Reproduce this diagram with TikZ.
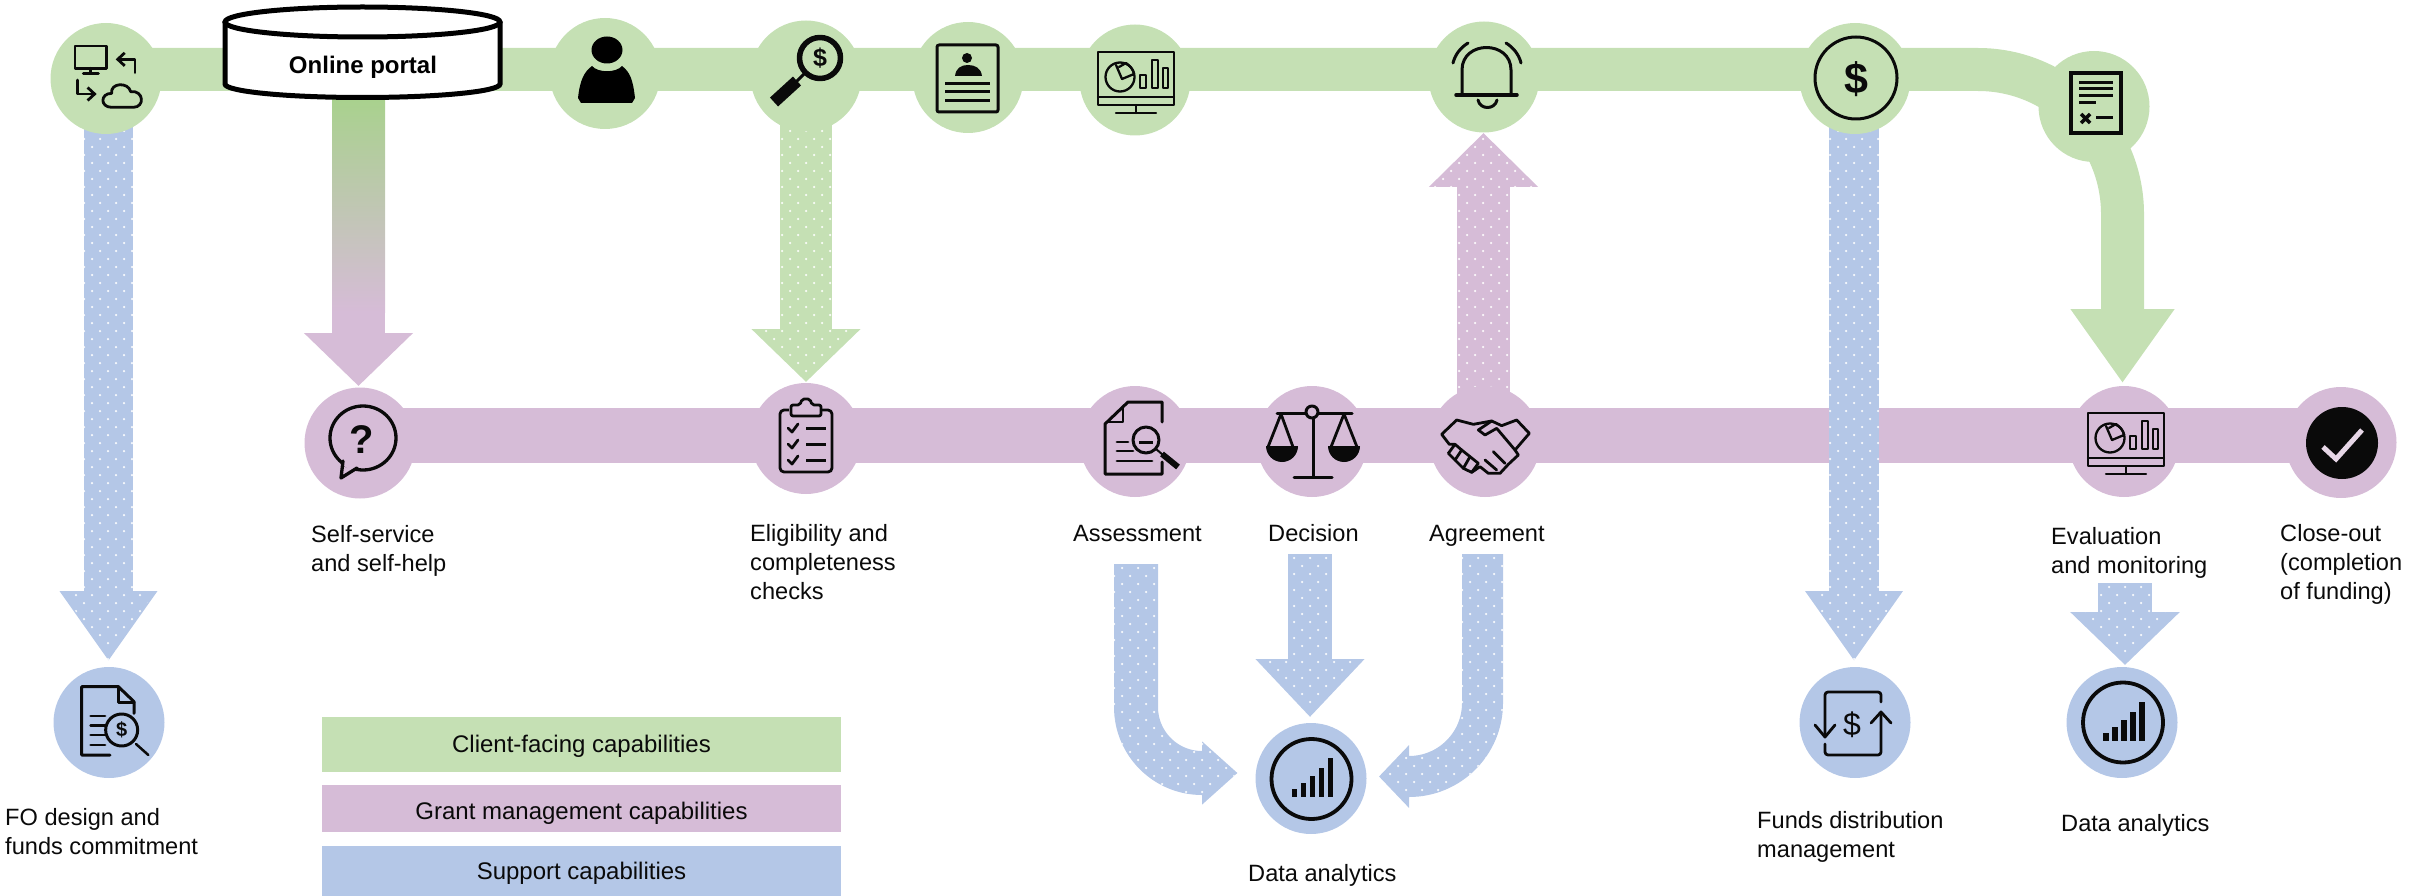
\documentclass[tikz,border=0pt]{standalone}
\usepackage{fontspec}
\setmainfont{Liberation Sans}
\usetikzlibrary{arrows.meta,shapes.geometric}
\definecolor{cgreen}{HTML}{C5E0B4}
\definecolor{cpurple}{HTML}{D6BCD7}
\definecolor{cblue}{HTML}{B4C7E7}
\definecolor{pgreen}{HTML}{A9D18E}
\definecolor{ink}{HTML}{0A0A0A}
\tikzset{
  stage/.style={circle,inner sep=0pt,minimum size=111pt,fill=#1},
  blockarrow/.style n args={3}{line width=#1pt,-{Triangle[length=#2pt,width=#3pt]}},
  lbl/.style={font=\fontsize{23.6}{29}\selectfont,text=ink,inner sep=0pt,anchor=west,align=left},
  lblone/.style={lbl,text height=17pt,text depth=5pt},
  legendbox/.style={fill=#1,inner sep=0pt,minimum width=519pt,font=\fontsize{24}{29}\selectfont,text=ink},
  ic/.style={draw=ink,line width=2.8pt,line join=round,line cap=round},
  sign/.style={inner sep=0pt,text=ink},
  zoomed/.style={x=0.33333pt,y=-0.33333pt}
}
% white dot grid inside a clip path: #1 path, #2 x0, #3 y0, #4 columns, #5 rows
\newcommand{\dotgrid}[5]{%
  \begin{scope}
    \clip #1;
    \foreach \rr in {0,...,#5}{%
      \pgfmathsetmacro{\offs}{mod(\rr,2)*8}
      \foreach \cc in {0,...,#4}{%
        \fill[white,opacity=.9] ({#2+\offs+16*\cc},{#3+8*\rr}) circle[radius=1.25pt];
      }
    }
  \end{scope}}
\newcommand{\screenicon}[1]{%
  \begin{scope}[shift={(#1)},every path/.append style={ic,line width=2.3pt}]
    \draw (-38,-28) rectangle (38,25);
    \draw (-38,17) -- (38,17);
    \draw (0,25) -- (0,33);
    \draw (-20,33) -- (20,33);
    \draw (-16,-3) circle[radius=14.5pt];
    \draw (-14,-1) -- (-20,-15);
    \draw (-14,-1) -- (-2,-6);
    \draw (-17,-13) -- (-10,-17) .. controls (-6,-14) and (-3,-11) .. (-2,-6);
    \draw (4,-5) rectangle (10,8);
    \draw (16,-20) rectangle (22,8);
    \draw (27,-12) rectangle (32,8);
  \end{scope}}
\newcommand{\charticon}[1]{%
  \begin{scope}[shift={(#1)}]
    \draw[ic,line width=3.8pt] (0,0) circle[radius=40pt];
    \fill[ink] (-20,18) rectangle (-14.5,10);
    \fill[ink] (-10.9,18) rectangle (-5.4,4);
    \fill[ink] (-1.8,18) rectangle (3.7,-3);
    \fill[ink] (7.3,18) rectangle (12.8,-11);
    \fill[ink] (16.4,18) rectangle (21.9,-21);
  \end{scope}}
\begin{document}
\begin{tikzpicture}[x=1pt,y=-1pt]
\useasboundingbox (0,0) rectangle (2430,896);
% free ends of the connectors
\coordinate (topL) at (106,69.5);
\coordinate (topR) at (1978,69.5);
\coordinate (topTip) at (2122.5,383);
\coordinate (midL) at (360,435.5);
\coordinate (midR) at (2341,435.5);
\coordinate (a1s) at (108.5,125);  \coordinate (a1t) at (108.5,661);
\coordinate (a2s) at (358.5,100);  \coordinate (a2t) at (358.5,386);
\coordinate (a3s) at (806,125);    \coordinate (a3t) at (806,382);
\coordinate (a4s) at (1483.5,400); \coordinate (a4t) at (1483.5,133);
\coordinate (a5s) at (1854,125);   \coordinate (a5t) at (1854,661);
\coordinate (a6s) at (2125,583);   \coordinate (a6t) at (2125,665);
\coordinate (a7s) at (1136,564);   \coordinate (a7t) at (1237.5,773);
\coordinate (a8s) at (1310,554);   \coordinate (a8t) at (1310,717);
\coordinate (a9s) at (1482.5,554); \coordinate (a9t) at (1379,776.5);
% bars
\draw[cpurple,line width=55pt] (midL) -- (midR);
\draw[cgreen,blockarrow={43}{74}{99}] (topL) -- (topR) arc[start angle=90,end angle=0,radius=144.5pt] -- (topTip);
% block arrows
\draw[cblue,blockarrow={49}{70}{93}] (a1s) -- (a1t);
\dotgrid{(84,125) -- (84,591) -- (62,591) -- (108.5,661) -- (155,591) -- (133,591) -- (133,125) -- cycle}{76}{131}{5}{66}
\draw[cpurple,blockarrow={53}{53}{106}] (a2s) -- (a2t);
\shade[top color=pgreen,bottom color=cpurple] (332,100) rectangle (385,312);
\draw[cgreen,blockarrow={52}{53}{106}] (a3s) -- (a3t);
\dotgrid{(780,125) -- (780,329) -- (753,329) -- (806,382) -- (859,329) -- (832,329) -- (832,125) -- cycle}{758}{131}{7}{32}
\draw[cpurple,blockarrow={53}{54}{106}] (a4s) -- (a4t);
\dotgrid{(1457,400) -- (1457,187) -- (1430.5,187) -- (1483.5,133) -- (1536.5,187) -- (1510,187) -- (1510,400) -- cycle}{1435}{139}{7}{33}
\draw[cblue,blockarrow={50}{70}{93}] (a5s) -- (a5t);
\dotgrid{(1829,125) -- (1829,591) -- (1807.5,591) -- (1854,661) -- (1900.5,591) -- (1879,591) -- (1879,125) -- cycle}{1806}{131}{6}{66}
\draw[cblue,blockarrow={54}{53}{106.5}] (a6s) -- (a6t);
\dotgrid{(2098,583) -- (2098,612) -- (2071.7,612) -- (2125,665) -- (2178.2,612) -- (2152,612) -- (2152,583) -- cycle}{2077}{587}{7}{10}
\draw[cblue,blockarrow={44}{35.5}{61}] (a7s) -- (1136,707) arc[start angle=180,end angle=270,radius=66pt] -- (a7t);
\dotgrid{(1114,564) -- (1114,707) arc[start angle=180,end angle=270,radius=88pt] -- (1202,803) -- (1237.5,773) -- (1202,742) -- (1202,751) arc[start angle=270,end angle=180,radius=44pt] -- (1158,564) -- cycle}{1106}{568}{9}{30}
\draw[cblue,blockarrow={44}{58}{105.5}] (a8s) -- (a8t);
\dotgrid{(1288,554) -- (1288,659) -- (1257,659) -- (1310,717) -- (1362.5,659) -- (1332,659) -- (1332,554) -- cycle}{1262}{558}{7}{20}
\draw[cblue,blockarrow={41}{30}{61}] (a9s) -- (1482.5,703) arc[start angle=0,end angle=-90,radius=73.5pt] -- (a9t);
\dotgrid{(1503,554) -- (1503,703) arc[start angle=0,end angle=-90,radius=94pt] -- (1409,807) -- (1379,776.5) -- (1409,746) -- (1409,756) arc[start angle=270,end angle=360,radius=53pt] -- (1462,554) -- cycle}{1382}{558}{8}{32}
% stage circles
\node[stage=cgreen] (sys) at (106,78.5) {};
\node[stage=cgreen] (user) at (605,73.5) {};
\node[stage=cgreen] (search) at (806,76) {};
\node[stage=cgreen] (idcard) at (968,77.5) {};
\node[stage=cgreen] (dash) at (1135,80) {};
\node[stage=cgreen] (bell) at (1484,77) {};
\node[stage=cgreen] (pay) at (1855,78.5) {};
\node[stage=cgreen] (report) at (2094,106.5) {};
\node[stage=cpurple] (help) at (360,443) {};
\node[stage=cpurple] (check) at (806,438.5) {};
\node[stage=cpurple] (assess) at (1135,441.5) {};
\node[stage=cpurple] (decide) at (1312,441.5) {};
\node[stage=cpurple] (agree) at (1485,441.5) {};
\node[stage=cpurple] (evalm) at (2124,441.5) {};
\node[stage=cpurple] (close) at (2341,442.5) {};
\node[stage=cblue] (fo) at (109,722.5) {};
\node[stage=cblue] (funds) at (1855,722.5) {};
\node[stage=cblue] (d1) at (1311,778.5) {};
\node[stage=cblue] (d2) at (2122,722.5) {};
% online portal
\fill[white] (225,22) -- (225,84) arc[start angle=180,end angle=360,x radius=137.5pt,y radius=13.5pt] -- (500,22) -- cycle;
\draw[black,line width=5pt] (225,22) -- (225,84) arc[start angle=180,end angle=360,x radius=137.5pt,y radius=13.5pt] -- (500,22);
\draw[black,fill=white,line width=5pt] (362.5,22) ellipse[x radius=137.5pt,y radius=15pt];
\node[font=\fontsize{24}{28}\bfseries\selectfont,inner sep=0pt,text=black,text height=17pt,text depth=5pt] (portal) at (363,68) {Online portal};
% icon: systems
\begin{scope}[zoomed]
  \draw[ic] (225,138) rectangle (320,205);
  \draw[ic] (272,205) -- (272,220);
  \draw[ic,line width=3pt] (250,220) -- (295,220);
  \draw[ic,-{Straight Barb[length=7pt,width=13pt]}] (405,218) -- (405,178) -- (347,178);
  \draw[ic,-{Straight Barb[length=7pt,width=13pt]}] (232,240) -- (232,282) -- (290,282);
  \draw[ic] (335,322) .. controls (300,322) and (300,280) .. (335,280) .. controls (330,248) and (385,245) .. (392,275) .. controls (432,270) and (435,322) .. (400,322) -- cycle;
\end{scope}
% icon: person
\fill[black] (607,50) ellipse[x radius=15.5pt,y radius=13.5pt];
\fill[black] (578,98) .. controls (580,80) and (584,72) .. (592,66) .. controls (598,73) and (616,73) .. (622,66) .. controls (630,72) and (633,80) .. (635,98) -- (632,103) -- (581,103) -- cycle;
% icon: magnifier with dollar
\draw[ic,line width=5.5pt] (820,58) circle[radius=20.5pt];
\node[sign,font=\fontsize{25}{25}\bfseries\selectfont] (searchd) at (820,58) {\$};
\draw[ic,line width=3pt] (805,73) -- (795,83);
\draw[ink,line width=12pt] (797,81) -- (774,102);
% icon: id sheet
\draw[ic,line width=3pt,rounded corners=2pt] (937,45) rectangle (998,112);
\fill[ink] (967,58) circle[radius=5pt];
\fill[ink] (955,76) .. controls (956,68) and (961,65) .. (968,65) .. controls (975,65) and (981,68) .. (982,76) -- cycle;
\foreach \yy in {84,92,101}{\draw[ink,line width=3pt] (945,\yy) -- (990,\yy);}
% icon: dashboards
\screenicon{1136,80}
\screenicon{2126,441}
% icon: bell
\draw[ic,line width=3pt] (1462,95) -- (1462,70) .. controls (1462,40) and (1511,40) .. (1511,70) -- (1511,95);
\draw[ic,line width=3.5pt] (1456,95) -- (1517,95);
\draw[ic,line width=3pt] (1478,100) .. controls (1480,110) and (1495,110) .. (1497,100);
\draw[ic,line width=3pt] (1453,63) .. controls (1455,55) and (1460,48) .. (1468,43);
\draw[ic,line width=3pt] (1521,63) .. controls (1519,55) and (1514,48) .. (1506,43);
% icon: payment
\draw[ic,line width=3pt] (1856,78) circle[radius=41pt];
\node[sign,font=\fontsize{43}{43}\bfseries\selectfont] (payd) at (1856,79) {\$};
% icon: report
\draw[ink,line width=4.5pt] (2071,73) rectangle (2121,133);
\foreach \yy in {83,89,96}{\draw[ink,line width=3pt] (2079,\yy) -- (2113,\yy);}
\draw[ink,line width=3pt] (2079,103) -- (2096,103);
\draw[ink,line width=3.5pt] (2081,114) -- (2090,123) (2090,114) -- (2081,123);
\draw[ink,line width=3pt] (2096,118) -- (2113,118);
% icon: help bubble
\draw[ic,line width=3.3pt] (363,438) ellipse[x radius=33pt,y radius=32pt];
\fill[cpurple] (346,459) -- (357,468) -- (350,471) -- (342,464) -- cycle;
\draw[ic,line width=3.3pt] (343,461) -- (341,478) -- (357,468);
\node[sign,font=\fontsize{40}{40}\bfseries\selectfont] (helpq) at (362,440) {?};
% icon: clipboard
\draw[ic,rounded corners=4pt] (780,410) rectangle (832,472);
\fill[cpurple] (789,403) rectangle (822,416);
\draw[ic,rounded corners=2pt] (791,416) -- (791,405) -- (800,405) -- (802,399) -- (810,399) -- (812,405) -- (821,405) -- (821,416) -- cycle;
\foreach \yy in {428,444,460}{%
  \draw[ic] (788,\yy) -- (792,{\yy+4}) -- (798,{\yy-4});
  \draw[ink,line width=3pt] (806,\yy) -- (826,\yy);
}
% icon: assessment
\draw[ic,line width=3pt] (1162,422) -- (1162,402) -- (1128,402) -- (1105,424) -- (1105,474) -- (1162,474) -- (1162,462);
\draw[ic] (1123,408) -- (1123,422) -- (1108,422);
\draw[ic] (1117,442) -- (1128,442) (1117,451) -- (1133,451) (1117,461) -- (1152,461);
\draw[ic,line width=3pt] (1146,440) circle[radius=13pt];
\draw[ink,line width=3pt] (1139,442) -- (1153,442);
\draw[ic,line width=2pt] (1156,449) -- (1163,455);
\draw[ink,line width=6pt] (1162,454) -- (1178,467);
% icon: scales
\draw[ic,line width=3pt] (1277,413) -- (1306,413) (1318,413) -- (1352,413);
\draw[ic,line width=3pt] (1312,412) circle[radius=6pt];
\draw[ic,line width=3pt] (1313,418) -- (1313,477) (1294,477) -- (1332,477);
\draw[ic] (1268,447) -- (1281,414) -- (1293,447);
\draw[ic] (1331,447) -- (1344,414) -- (1357,447);
\fill[ink] (1266,446) arc[start angle=180,end angle=360,radius=16pt] -- cycle;
\fill[ink] (1328,446) arc[start angle=180,end angle=360,radius=16pt] -- cycle;
% icon: handshake
\begin{scope}[shift={(1413.33,385)},x=0.33333pt,y=-0.33333pt]
  \draw[ic] (85,148) -- (130,105) -- (180,118) -- (235,108) -- (265,122) -- (310,105) -- (348,145) -- (305,195) -- (315,210) -- (285,238) -- (260,265) -- (225,265) -- (200,245) -- (175,262) -- (150,250) -- (105,205) -- (125,178) -- (108,178) -- cycle;
  \draw[ic] (235,108) -- (195,135) -- (215,150) -- (250,130) -- (305,195);
  \draw[ic] (125,178) -- (145,195) -- (125,225);
  \draw[ic] (145,195) -- (170,215) -- (150,250);
  \draw[ic] (170,215) -- (195,235) -- (175,262);
  \draw[ic] (240,200) -- (275,235);
  \draw[ic] (215,225) -- (250,255);
\end{scope}
% icon: close-out
\fill[ink] (2342,443) circle[radius=36pt];
\draw[cpurple!60!white,line width=5pt,line join=miter] (2323,447) -- (2336,459) -- (2362,430);
% icon: fund design
\begin{scope}[shift={(60,560)},x=0.33333pt,y=-0.33333pt]
  \draw[ic,line width=3pt] (222,460) -- (222,425) -- (175,380) -- (65,380) -- (65,585) -- (150,585);
  \draw[ic] (175,380) -- (175,428) -- (222,428);
  \foreach \yy in {468,497,525,555}{\draw[ic] (92,\yy) -- (135,\yy);}
  \draw[ic,line width=3pt,fill=cblue] (185,510) circle[radius=16pt];
  \node[sign,font=\fontsize{20}{20}\bfseries\selectfont] (fod) at (185,510) {\$};
  \draw[ic,line width=2.5pt] (228,552) -- (265,585);
\end{scope}
% icon: funds distribution
\draw[ic,rounded corners=3pt] (1825,737) -- (1825,692) -- (1881,692) -- (1881,702);
\draw[ic] (1815,725) -- (1825,737) -- (1835,725);
\draw[ic,rounded corners=3pt] (1825,744) -- (1825,755) -- (1881,755) -- (1881,712);
\draw[ic] (1871,723) -- (1881,712) -- (1891,723);
\node[sign,font=\fontsize{32}{32}\selectfont] (fundd) at (1852,725) {\$};
% icon: charts
\charticon{1311.5,779}
\charticon{2123,722.5}
% labels
\node[lbl] (lfo) at (5,832) {FO design and\\funds commitment};
\node[lbl] (lhelp) at (311,551) {Self-service\\and self-help};
\node[lbl] (lelig) at (750,562) {Eligibility and\\completeness\\checks};
\node[lblone] (lass) at (1073,535) {Assessment};
\node[lblone] (ldec) at (1268,535) {Decision};
\node[lblone] (lagr) at (1429,535) {Agreement};
\node[lblone] (ld1) at (1248,875) {Data analytics};
\node[lbl] (lfun) at (1757,837) {Funds distribution\\management};
\node[lblone] (ld2) at (2061,825) {Data analytics};
\node[lbl] (lev) at (2051,553) {Evaluation\\and monitoring};
\node[lbl] (lcl) at (2280,564) {Close-out\\(completion\\of funding)};
% legend
\node[legendbox=cgreen,minimum height=55pt,text height=20pt,text depth=4pt] (lg1) at (581.5,744.5) {Client-facing capabilities};
\node[legendbox=cpurple,minimum height=47pt,text height=24pt,text depth=3pt] (lg2) at (581.5,808.5) {Grant management capabilities};
\node[legendbox=cblue,minimum height=50pt,text height=21pt,text depth=4pt] (lg3) at (581.5,871) {Support capabilities};
\end{tikzpicture}
\end{document}
